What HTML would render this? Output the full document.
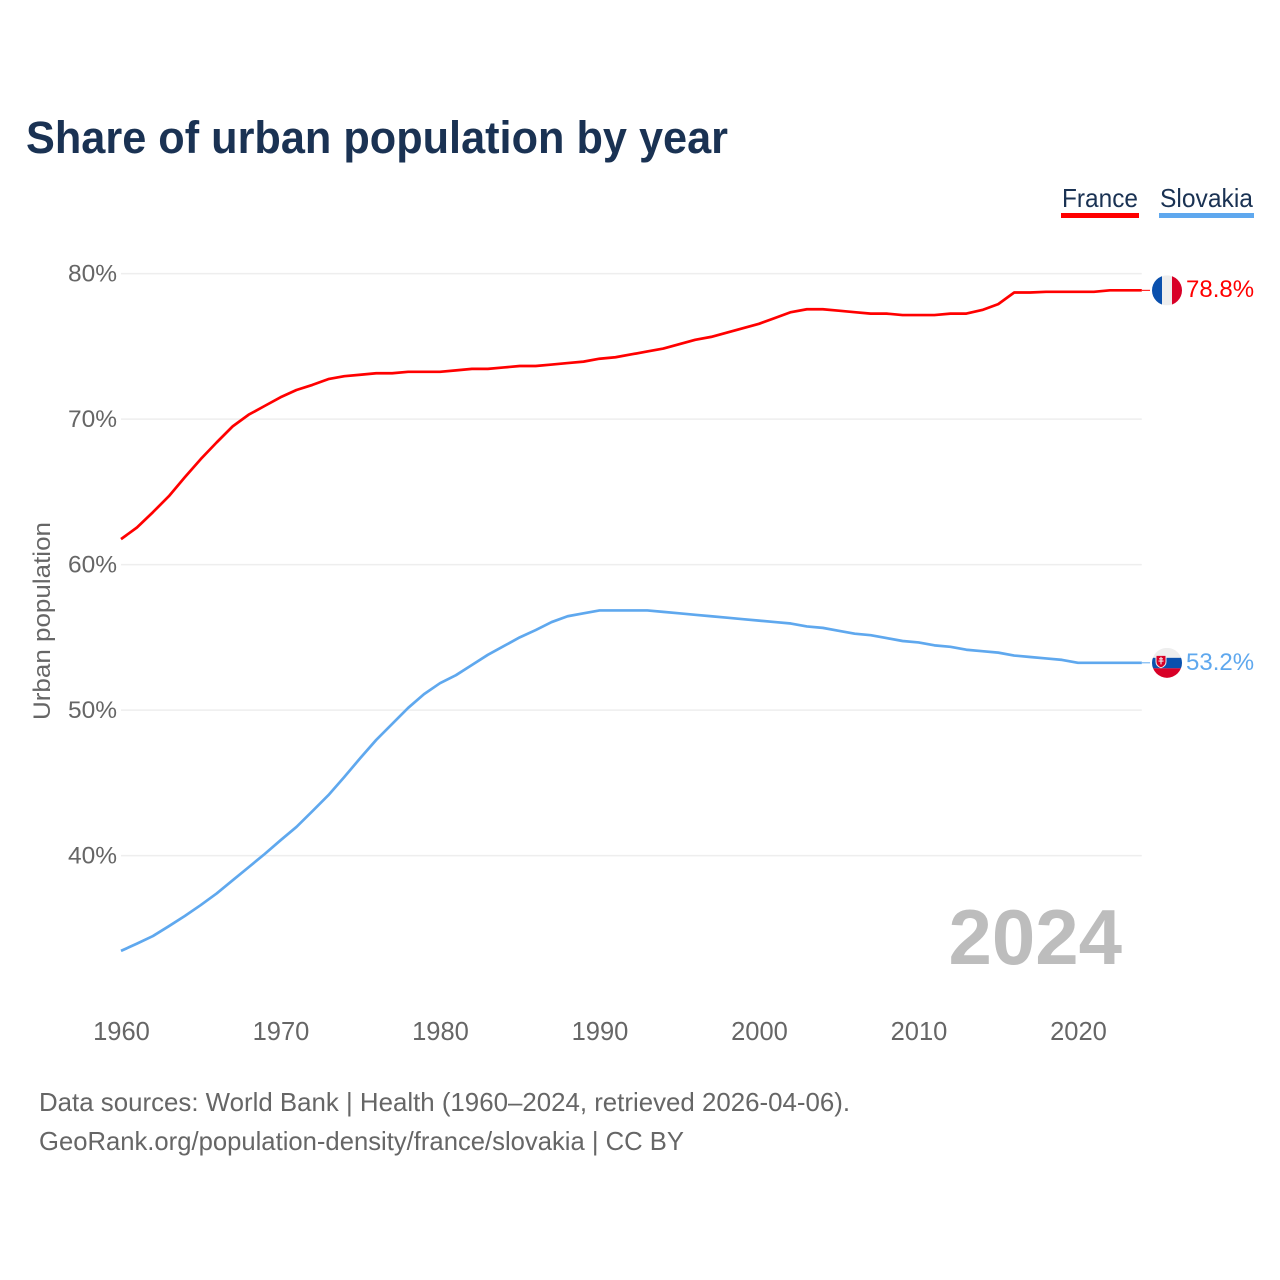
<!DOCTYPE html>
<html lang="en">
<head>
<meta charset="utf-8">
<title>Share of urban population by year</title>
<style>
  html, body { margin: 0; padding: 0; background: #fff; }
  svg { display: block; font-family: "Liberation Sans", sans-serif; }
</style>
</head>
<body>
<svg id="chart" xmlns="http://www.w3.org/2000/svg" width="1280" height="1280" viewBox="0 0 1280 1280">
  <defs>
    <clipPath id="flag-clip"><circle cx="0" cy="0" r="15"></circle></clipPath>
  </defs>
  <rect x="0" y="0" width="1280" height="1280" fill="#ffffff"></rect>
  <text x="26" y="153" font-size="45" font-weight="700" fill="#1a3253" textLength="702" lengthAdjust="spacingAndGlyphs">Share of urban population by year</text>

  <g>
    <g>
      <text x="1062" y="207" font-size="26" fill="#1a3253" textLength="76" lengthAdjust="spacingAndGlyphs">France</text>
      <rect x="1061" y="213" width="78" height="5" fill="#ff0000"></rect>
    </g>
    <g>
      <text x="1160" y="207" font-size="26" fill="#1a3253" textLength="93" lengthAdjust="spacingAndGlyphs">Slovakia</text>
      <rect x="1159" y="213" width="95" height="5" fill="#5fa8ee"></rect>
    </g>
  </g>

  <g id="grid"></g>
  <g id="y-axis"></g>
  <g id="x-axis"></g>
  <text transform="translate(50 621) rotate(-90)" text-anchor="middle" font-size="24" fill="#666666" textLength="198" lengthAdjust="spacingAndGlyphs">Urban population</text>

  <text x="1122" y="964" text-anchor="end" font-size="78" font-weight="700" fill="#bdbdbd">2024</text>
  <g id="series"></g>

  <g id="flag-france">
    <g clip-path="url(#flag-clip)">
      <rect x="-15" y="-15" width="10" height="30" fill="#0a50ad"></rect>
      <rect x="-5" y="-15" width="10" height="30" fill="#eeeeee"></rect>
      <rect x="5" y="-15" width="10" height="30" fill="#d80027"></rect>
    </g>
  </g>
  <g id="flag-slovakia">
    <g clip-path="url(#flag-clip)">
      <rect x="-15" y="-15" width="30" height="10" fill="#eeeeee"></rect>
      <rect x="-15" y="-5" width="30" height="10.5" fill="#0a50ad"></rect>
      <rect x="-15" y="5.5" width="30" height="10" fill="#d80027"></rect>
      <path d="M-11-7.5h10v6.500c0 3-2.500 5-5 6-2.500-1-5-3-5-6z" fill="#d80027" stroke="#eeeeee" stroke-width="1"></path>
      <path d="M-6-6v7.500M-8-4h4M-8.500-1.800h5" stroke="#eeeeee" stroke-width="1.100" fill="none"></path>
    </g>
  </g>
  <g id="end-labels"></g>

  <text x="39" y="1111" font-size="26" fill="#666666" textLength="811" lengthAdjust="spacingAndGlyphs">Data sources: World Bank | Health (1960–2024, retrieved 2026-04-06).</text>
  <text x="39" y="1150" font-size="26" fill="#666666" textLength="645" lengthAdjust="spacingAndGlyphs">GeoRank.org/population-density/france/slovakia | CC BY</text>
</svg>
<script>
const startYear = 1960;
const franceValues = [
  61.75, 62.55, 63.6, 64.7, 66.0, 67.25, 68.4, 69.5, 70.3, 70.9,
  71.5, 72.0, 72.35, 72.75, 72.95, 73.05, 73.15, 73.15, 73.25, 73.25,
  73.25, 73.35, 73.45, 73.45, 73.55, 73.65, 73.65, 73.75, 73.85, 73.95,
  74.15, 74.25, 74.45, 74.65, 74.85, 75.15, 75.45, 75.65, 75.95, 76.25,
  76.55, 76.95, 77.35, 77.55, 77.55, 77.45, 77.35, 77.25, 77.25, 77.15,
  77.15, 77.15, 77.25, 77.25, 77.5, 77.9, 78.7, 78.7, 78.75, 78.75,
  78.75, 78.75, 78.85, 78.85, 78.85
];
const slovakiaValues = [
  33.45, 33.95, 34.47, 35.15, 35.85, 36.6, 37.4, 38.3, 39.2, 40.1,
  41.05, 41.97, 43.05, 44.15, 45.4, 46.7, 47.95, 49.05, 50.15, 51.1,
  51.85, 52.4, 53.1, 53.8, 54.4, 55.0, 55.5, 56.05, 56.45, 56.65,
  56.85, 56.85, 56.85, 56.85, 56.75, 56.65, 56.55, 56.45, 56.35, 56.25,
  56.15, 56.05, 55.95, 55.75, 55.65, 55.45, 55.25, 55.15, 54.95, 54.75,
  54.65, 54.45, 54.35, 54.15, 54.05, 53.95, 53.75, 53.65, 53.55, 53.45,
  53.25, 53.25, 53.25, 53.25, 53.25
];
const yTickValues = [40, 50, 60, 70, 80];
const yTickLabels = ["40%", "50%", "60%", "70%", "80%"];
const xTickValues = [1960, 1970, 1980, 1990, 2000, 2010, 2020];
const xTickLabels = ["1960", "1970", "1980", "1990", "2000", "2010", "2020"];
const franceEndLabel = "78.8%";
const slovakiaEndLabel = "53.2%";

const SVG_NS = "http://www.w3.org/2000/svg";
const plotLeft = 121;
const plotRight = 1141.8;
const lastYear = startYear + franceValues.length - 1;

function xScale(year) {
  return plotLeft + (year - startYear) * (plotRight - plotLeft) / (lastYear - startYear);
}
function yScale(value) {
  return 273.6 + (80 - value) * 14.55;
}
function make(tag, parent, attrs, text) {
  const el = document.createElementNS(SVG_NS, tag);
  Object.keys(attrs).forEach(function (k) { el.setAttribute(k, attrs[k]); });
  if (text !== undefined) { el.textContent = text; }
  parent.appendChild(el);
  return el;
}

const gridGroup = document.getElementById("grid");
const yAxisGroup = document.getElementById("y-axis");
yTickValues.forEach(function (v, i) {
  const line = make("line", gridGroup, { x1: plotLeft, x2: plotRight, y1: yScale(v), y2: yScale(v), stroke: "#eeeeee", "stroke-width": 1.5 });
  
  
  const label = make("text", yAxisGroup, { x: 117, y: yScale(v) + 8, "text-anchor": "end", "font-size": 24.5, fill: "#666666" }, yTickLabels[i]);
  
  
});

const xAxisGroup = document.getElementById("x-axis");
xTickValues.forEach(function (v, i) {
  const label = make("text", xAxisGroup, { x: xScale(v) + 0.5, y: 1040, "text-anchor": "middle", "font-size": 25.5, fill: "#666666" }, xTickLabels[i]);
  
  
});

function linePoints(values) {
  return values.map(function (v, i) {
    return xScale(startYear + i).toFixed(2) + "," + yScale(v).toFixed(2);
  }).join(" ");
}

const seriesGroup = document.getElementById("series");

const franceLine = make("polyline", seriesGroup, { points: linePoints(franceValues), fill: "none", stroke: "#ff0000", "stroke-width": 2.7, "stroke-linejoin": "round" });



const slovakiaLine = make("polyline", seriesGroup, { points: linePoints(slovakiaValues), fill: "none", stroke: "#5fa8ee", "stroke-width": 2.7, "stroke-linejoin": "round" });



const franceEndY = yScale(franceValues[franceValues.length - 1]);
const slovakiaEndY = yScale(slovakiaValues[slovakiaValues.length - 1]);

const franceConnector = make("line", seriesGroup, { x1: plotRight, x2: 1150, y1: franceEndY, y2: franceEndY, stroke: "#ff0000", "stroke-width": 1 });



const slovakiaConnector = make("line", seriesGroup, { x1: plotRight, x2: 1150, y1: slovakiaEndY, y2: slovakiaEndY, stroke: "#5fa8ee", "stroke-width": 1 });



document.getElementById("flag-france").setAttribute("transform", "translate(1167 " + franceEndY + ")");
document.getElementById("flag-slovakia").setAttribute("transform", "translate(1167 " + slovakiaEndY + ")");

const endGroup = document.getElementById("end-labels");

const franceValueLabel = make("text", endGroup, { x: 1186, y: franceEndY + 6.5, "font-size": 24, fill: "#ff0000" }, franceEndLabel);



const slovakiaValueLabel = make("text", endGroup, { x: 1186, y: slovakiaEndY + 7, "font-size": 24, fill: "#5fa8ee" }, slovakiaEndLabel);


</script>
</body>
</html>
